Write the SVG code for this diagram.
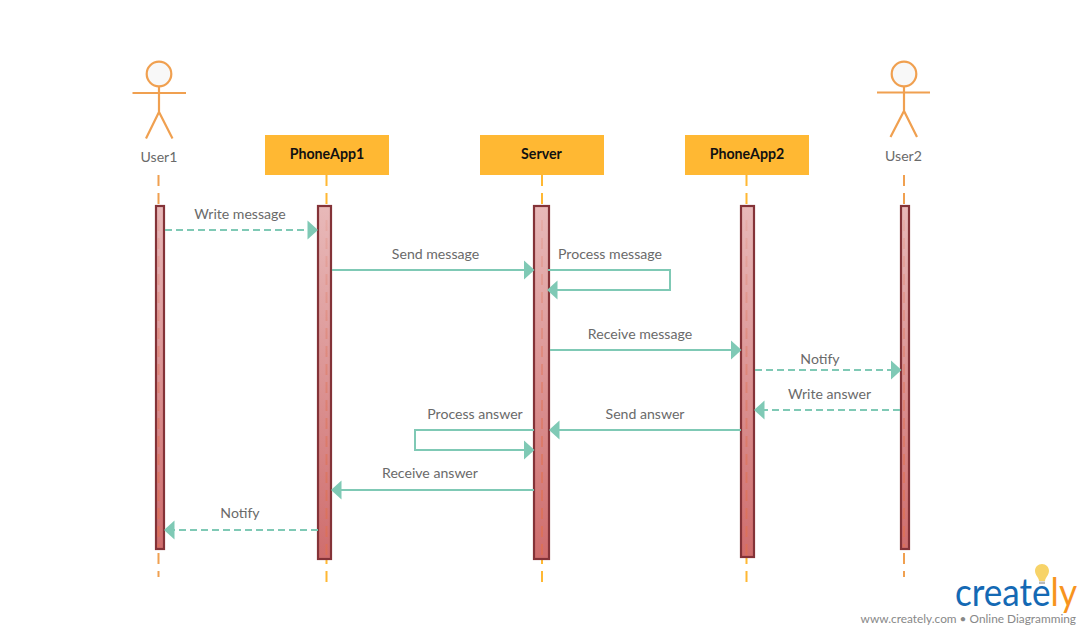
<svg xmlns="http://www.w3.org/2000/svg" width="1090" height="635" viewBox="0 0 1090 635">
<style>
text{font-family:Lato,"Noto Sans","Liberation Sans",sans-serif}
.lbl{font-size:14.100px;fill:#6a6a6a;text-anchor:middle}
.obj{fill:#ffb833}
.objt{font-size:14.200px;font-weight:700;fill:#111;text-anchor:middle}
.life{fill:none;stroke-width:2;stroke-dasharray:11 7}
.la{stroke:#f0a050}
.lo{stroke:#ffb833}
.inner{fill:none;stroke:url(#dg);stroke-width:2;stroke-dasharray:11 7}
.bar{fill:url(#g);stroke:#843338;stroke-width:2.200}
.act{fill:#f8f8f8;stroke:#f0a050;stroke-width:2.200}
.actl{fill:none;stroke:#f0a050;stroke-width:2.200}
.m{fill:none;stroke:#7fc9b5;stroke-width:2}
.d{stroke-dasharray:7 4}
.a{fill:#7fc9b5}
</style>
<defs>
<linearGradient id="g" x1="0" y1="0" x2="0" y2="1">
<stop offset="0" stop-color="#e8b9b9"/>
<stop offset="1" stop-color="#cf6d6d"/>
</linearGradient>
<linearGradient id="dg" gradientUnits="userSpaceOnUse" x1="0" y1="206" x2="0" y2="559">
<stop offset="0" stop-color="#e0704f" stop-opacity=".12"/>
<stop offset="1" stop-color="#e0704f" stop-opacity=".7"/>
</linearGradient>
</defs>
<rect width="1090" height="635" fill="#fff"/>
<g id="lifelines">
<path class="life la" d="M158.500 175V577"/>
<path class="life lo" d="M326.500 175V588"/>
<path class="life lo" d="M542 175V588"/>
<path class="life lo" d="M746.500 175V588"/>
<path class="life la" d="M904 175V577"/>
</g>
<g id="user1">
<circle class="act" cx="159" cy="74" r="12.300"/>
<path class="actl" d="M132.500 93H186M159 86.500V112M146 138.500L159 112L172.500 138.500"/>
<text class="lbl" x="159" y="162">User1</text>
</g>
<g id="user2">
<circle class="act" cx="904" cy="74" r="12.300"/>
<path class="actl" d="M877 92.500H930M904 86.500V111M890.500 137L904 111L917 137"/>
<text class="lbl" x="903.500" y="161">User2</text>
</g>
<g id="phoneapp1"><rect class="obj" x="265" y="135" width="124" height="40"/><text class="objt" x="327" y="159">PhoneApp1</text></g>
<g id="server"><rect class="obj" x="480" y="135" width="124" height="40"/><text class="objt" x="541.500" y="159">Server</text></g>
<g id="phoneapp2"><rect class="obj" x="685" y="135" width="124" height="40"/><text class="objt" x="747" y="159">PhoneApp2</text></g>
<g id="bar-user1"><rect class="bar" x="156" y="206" width="8" height="343"/><path class="inner" d="M158.500 220V547"/></g>
<g id="bar-phoneapp1"><rect class="bar" x="318" y="206" width="13" height="353"/><path class="inner" d="M326.500 220V557"/></g>
<g id="bar-server"><rect class="bar" x="534" y="206" width="15" height="353"/><path class="inner" d="M542 220V557"/></g>
<g id="bar-phoneapp2"><rect class="bar" x="741" y="206" width="13" height="351"/><path class="inner" d="M746.500 220V555"/></g>
<g id="bar-user2"><rect class="bar" x="901" y="206" width="8" height="343"/><path class="inner" d="M904 220V547"/></g>
<g id="connectors">
<path class="m d" d="M165 230H308"/><path class="a" d="M318 230L307.500 220.500V239.500Z"/>
<path class="m" d="M332 270H524"/><path class="a" d="M534.500 270L524 260.500V279.500Z"/>
<path class="m" d="M548 270H670V290H557"/><path class="a" d="M547 290L557.500 280.500V299.500Z"/>
<path class="m" d="M550 350H731"/><path class="a" d="M741.500 350L731 340.500V359.500Z"/>
<path class="m d" d="M755 370H891"/><path class="a" d="M901.500 370L891 360.500V379.500Z"/>
<path class="m d" d="M900 410H764"/><path class="a" d="M754 410L764.500 400.500V419.500Z"/>
<path class="m" d="M741 430H559"/><path class="a" d="M549 430L559.500 420.500V439.500Z"/>
<path class="m" d="M534 430H415V450H524"/><path class="a" d="M534.500 450L524 440.500V459.500Z"/>
<path class="m" d="M534 490H341"/><path class="a" d="M331 490L341.500 480.500V499.500Z"/>
<path class="m d" d="M318 530H174"/><path class="a" d="M164 530L174.500 520.500V539.500Z"/>
</g>
<g id="labels">
<text class="lbl" x="240" y="219">Write message</text>
<text class="lbl" x="435.500" y="259">Send message</text>
<text class="lbl" x="610" y="259">Process message</text>
<text class="lbl" x="640" y="339">Receive message</text>
<text class="lbl" x="820" y="364">Notify</text>
<text class="lbl" x="829.500" y="399">Write answer</text>
<text class="lbl" x="645" y="419">Send answer</text>
<text class="lbl" x="475" y="419">Process answer</text>
<text class="lbl" x="430" y="478">Receive answer</text>
<text class="lbl" x="240" y="518">Notify</text>
</g>
<g id="logo">
<path d="M1042 564c-4 0-7 3-7 7 0 3 2 5 3 7 .6 1 1 2 1 3h6c0-1 .4-2 1-3 1-2 3-4 3-7 0-4-3-7-7-7z" fill="#f7d368"/>
<path d="M1039 581.500h6v2.500h-6z" fill="#bbb"/>
<text x="955" y="606" font-size="38" fill="#1469b4" textLength="122" lengthAdjust="spacingAndGlyphs">create<tspan fill="#f7941e">ly</tspan></text>
<text x="1076" y="623" font-size="11.850" fill="#888" text-anchor="end">www.creately.com • Online Diagramming</text>
</g>
</svg>
